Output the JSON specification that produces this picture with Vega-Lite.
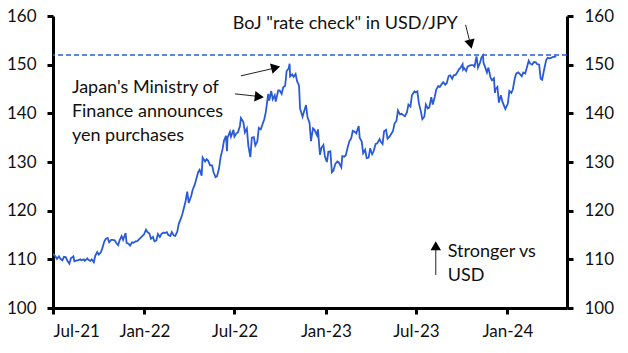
{
  "$schema": "https://vega.github.io/schema/vega-lite/v6.json",
  "width": 514,
  "height": 292,
  "autosize": {"type": "none"},
  "padding": {"left": 53, "top": 16, "right": 61, "bottom": 45},
  "background": "white",
  "config": {
    "view": {"stroke": null},
    "font": "Lato",
    "axis": {
      "domainColor": "black",
      "domainWidth": 3,
      "tickColor": "black",
      "tickWidth": 3,
      "tickSize": 6,
      "labelFont": "Lato",
      "labelFontSize": 17,
      "labelColor": "#111111",
      "grid": false,
      "title": null
    },
    "text": {"font": "Lato", "fontSize": 18, "color": "#111111"}
  },
  "datasets": {
    "fx": [
      {"date": "2021-07-01", "value": 111.1}, {"date": "2021-07-06", "value": 110.6}, {"date": "2021-07-09", "value": 110.1}, {"date": "2021-07-13", "value": 110.6},
      {"date": "2021-07-16", "value": 110.1}, {"date": "2021-07-20", "value": 109.8}, {"date": "2021-07-23", "value": 110.5}, {"date": "2021-07-27", "value": 110.4},
      {"date": "2021-07-30", "value": 109.7}, {"date": "2021-08-03", "value": 109.1}, {"date": "2021-08-06", "value": 110.2}, {"date": "2021-08-11", "value": 110.6},
      {"date": "2021-08-13", "value": 109.6}, {"date": "2021-08-18", "value": 109.8}, {"date": "2021-08-20", "value": 109.8}, {"date": "2021-08-25", "value": 110.0},
      {"date": "2021-08-27", "value": 109.8}, {"date": "2021-09-01", "value": 110.0}, {"date": "2021-09-03", "value": 109.7}, {"date": "2021-09-08", "value": 110.2},
      {"date": "2021-09-10", "value": 109.9}, {"date": "2021-09-14", "value": 109.7}, {"date": "2021-09-17", "value": 110.0}, {"date": "2021-09-21", "value": 109.4},
      {"date": "2021-09-24", "value": 110.7}, {"date": "2021-09-28", "value": 111.5}, {"date": "2021-10-01", "value": 111.0}, {"date": "2021-10-05", "value": 111.4},
      {"date": "2021-10-08", "value": 112.2}, {"date": "2021-10-12", "value": 113.6}, {"date": "2021-10-15", "value": 114.2}, {"date": "2021-10-19", "value": 114.4},
      {"date": "2021-10-22", "value": 113.5}, {"date": "2021-10-26", "value": 114.0}, {"date": "2021-10-29", "value": 114.0}, {"date": "2021-11-02", "value": 113.9},
      {"date": "2021-11-05", "value": 113.4}, {"date": "2021-11-09", "value": 112.9}, {"date": "2021-11-12", "value": 113.9}, {"date": "2021-11-16", "value": 114.8},
      {"date": "2021-11-19", "value": 114.0}, {"date": "2021-11-24", "value": 115.4}, {"date": "2021-11-26", "value": 113.4}, {"date": "2021-11-30", "value": 113.2},
      {"date": "2021-12-03", "value": 112.8}, {"date": "2021-12-07", "value": 113.5}, {"date": "2021-12-10", "value": 113.4}, {"date": "2021-12-14", "value": 113.7},
      {"date": "2021-12-17", "value": 113.7}, {"date": "2021-12-21", "value": 114.1}, {"date": "2021-12-24", "value": 114.4}, {"date": "2021-12-28", "value": 114.8},
      {"date": "2021-12-31", "value": 115.1}, {"date": "2022-01-04", "value": 116.1}, {"date": "2022-01-07", "value": 115.6}, {"date": "2022-01-11", "value": 115.3},
      {"date": "2022-01-14", "value": 114.2}, {"date": "2022-01-18", "value": 114.6}, {"date": "2022-01-21", "value": 113.7}, {"date": "2022-01-25", "value": 113.9},
      {"date": "2022-01-28", "value": 115.2}, {"date": "2022-02-01", "value": 114.6}, {"date": "2022-02-04", "value": 115.2}, {"date": "2022-02-08", "value": 115.5},
      {"date": "2022-02-11", "value": 115.4}, {"date": "2022-02-15", "value": 115.6}, {"date": "2022-02-18", "value": 115.0}, {"date": "2022-02-22", "value": 114.8},
      {"date": "2022-02-25", "value": 115.6}, {"date": "2022-03-01", "value": 114.9}, {"date": "2022-03-04", "value": 114.8}, {"date": "2022-03-08", "value": 115.7},
      {"date": "2022-03-11", "value": 117.3}, {"date": "2022-03-15", "value": 118.3}, {"date": "2022-03-18", "value": 119.2}, {"date": "2022-03-22", "value": 120.8},
      {"date": "2022-03-25", "value": 122.1}, {"date": "2022-03-28", "value": 123.9}, {"date": "2022-03-31", "value": 121.6}, {"date": "2022-04-05", "value": 123.0},
      {"date": "2022-04-08", "value": 124.3}, {"date": "2022-04-12", "value": 125.3}, {"date": "2022-04-15", "value": 126.4}, {"date": "2022-04-19", "value": 127.9},
      {"date": "2022-04-22", "value": 128.4}, {"date": "2022-04-26", "value": 127.2}, {"date": "2022-04-28", "value": 130.9}, {"date": "2022-05-03", "value": 130.1},
      {"date": "2022-05-06", "value": 130.6}, {"date": "2022-05-09", "value": 130.3}, {"date": "2022-05-13", "value": 129.3}, {"date": "2022-05-17", "value": 129.3},
      {"date": "2022-05-20", "value": 127.9}, {"date": "2022-05-24", "value": 126.9}, {"date": "2022-05-27", "value": 127.1}, {"date": "2022-05-31", "value": 128.7},
      {"date": "2022-06-03", "value": 130.9}, {"date": "2022-06-07", "value": 132.6}, {"date": "2022-06-10", "value": 134.4}, {"date": "2022-06-14", "value": 135.4},
      {"date": "2022-06-16", "value": 132.2}, {"date": "2022-06-17", "value": 135.0}, {"date": "2022-06-22", "value": 136.2}, {"date": "2022-06-24", "value": 135.2},
      {"date": "2022-06-29", "value": 136.6}, {"date": "2022-07-01", "value": 135.2}, {"date": "2022-07-05", "value": 135.9}, {"date": "2022-07-08", "value": 136.1},
      {"date": "2022-07-12", "value": 137.4}, {"date": "2022-07-14", "value": 139.0}, {"date": "2022-07-19", "value": 138.2}, {"date": "2022-07-22", "value": 136.1},
      {"date": "2022-07-26", "value": 136.9}, {"date": "2022-07-29", "value": 133.3}, {"date": "2022-08-02", "value": 131.0}, {"date": "2022-08-05", "value": 135.0},
      {"date": "2022-08-09", "value": 135.1}, {"date": "2022-08-12", "value": 133.4}, {"date": "2022-08-16", "value": 134.2}, {"date": "2022-08-19", "value": 137.0},
      {"date": "2022-08-23", "value": 136.7}, {"date": "2022-08-26", "value": 137.6}, {"date": "2022-08-30", "value": 138.8}, {"date": "2022-09-02", "value": 140.2},
      {"date": "2022-09-07", "value": 144.0}, {"date": "2022-09-09", "value": 142.6}, {"date": "2022-09-13", "value": 144.6}, {"date": "2022-09-16", "value": 142.9},
      {"date": "2022-09-20", "value": 143.7}, {"date": "2022-09-22", "value": 142.4}, {"date": "2022-09-27", "value": 144.7}, {"date": "2022-09-30", "value": 144.7},
      {"date": "2022-10-04", "value": 144.0}, {"date": "2022-10-07", "value": 145.3}, {"date": "2022-10-11", "value": 145.7}, {"date": "2022-10-14", "value": 148.7},
      {"date": "2022-10-18", "value": 149.2}, {"date": "2022-10-20", "value": 150.2}, {"date": "2022-10-21", "value": 147.6}, {"date": "2022-10-25", "value": 148.0},
      {"date": "2022-10-28", "value": 147.5}, {"date": "2022-11-01", "value": 148.1}, {"date": "2022-11-04", "value": 146.6}, {"date": "2022-11-08", "value": 145.7},
      {"date": "2022-11-10", "value": 141.0}, {"date": "2022-11-15", "value": 139.3}, {"date": "2022-11-18", "value": 140.4}, {"date": "2022-11-22", "value": 141.7},
      {"date": "2022-11-25", "value": 139.2}, {"date": "2022-11-29", "value": 138.1}, {"date": "2022-12-02", "value": 134.3}, {"date": "2022-12-06", "value": 136.9},
      {"date": "2022-12-09", "value": 136.6}, {"date": "2022-12-14", "value": 135.5}, {"date": "2022-12-16", "value": 136.7}, {"date": "2022-12-20", "value": 131.5},
      {"date": "2022-12-23", "value": 132.9}, {"date": "2022-12-27", "value": 133.5}, {"date": "2022-12-30", "value": 131.1}, {"date": "2023-01-03", "value": 130.0},
      {"date": "2023-01-06", "value": 132.1}, {"date": "2023-01-10", "value": 132.2}, {"date": "2023-01-13", "value": 127.9}, {"date": "2023-01-16", "value": 128.2},
      {"date": "2023-01-18", "value": 128.9}, {"date": "2023-01-20", "value": 129.6}, {"date": "2023-01-24", "value": 130.1}, {"date": "2023-01-27", "value": 129.9},
      {"date": "2023-02-01", "value": 128.9}, {"date": "2023-02-03", "value": 131.2}, {"date": "2023-02-07", "value": 131.1}, {"date": "2023-02-10", "value": 131.4},
      {"date": "2023-02-14", "value": 133.1}, {"date": "2023-02-17", "value": 134.2}, {"date": "2023-02-21", "value": 134.9}, {"date": "2023-02-24", "value": 136.4},
      {"date": "2023-02-28", "value": 136.2}, {"date": "2023-03-03", "value": 135.9}, {"date": "2023-03-08", "value": 137.4}, {"date": "2023-03-10", "value": 135.0},
      {"date": "2023-03-14", "value": 134.2}, {"date": "2023-03-17", "value": 131.8}, {"date": "2023-03-21", "value": 132.5}, {"date": "2023-03-24", "value": 130.8},
      {"date": "2023-03-28", "value": 130.9}, {"date": "2023-03-31", "value": 132.8}, {"date": "2023-04-04", "value": 131.6}, {"date": "2023-04-07", "value": 132.2},
      {"date": "2023-04-11", "value": 133.7}, {"date": "2023-04-14", "value": 133.8}, {"date": "2023-04-19", "value": 134.7}, {"date": "2023-04-21", "value": 134.2},
      {"date": "2023-04-25", "value": 133.7}, {"date": "2023-04-28", "value": 136.3}, {"date": "2023-05-02", "value": 136.6}, {"date": "2023-05-05", "value": 134.8},
      {"date": "2023-05-09", "value": 135.2}, {"date": "2023-05-12", "value": 135.7}, {"date": "2023-05-16", "value": 136.4}, {"date": "2023-05-19", "value": 137.9},
      {"date": "2023-05-23", "value": 138.5}, {"date": "2023-05-26", "value": 140.6}, {"date": "2023-05-30", "value": 139.8}, {"date": "2023-06-02", "value": 139.9},
      {"date": "2023-06-06", "value": 139.6}, {"date": "2023-06-09", "value": 139.4}, {"date": "2023-06-13", "value": 140.2}, {"date": "2023-06-16", "value": 141.8},
      {"date": "2023-06-20", "value": 141.4}, {"date": "2023-06-23", "value": 143.7}, {"date": "2023-06-28", "value": 144.5}, {"date": "2023-06-30", "value": 144.3},
      {"date": "2023-07-04", "value": 144.5}, {"date": "2023-07-07", "value": 142.1}, {"date": "2023-07-11", "value": 140.4}, {"date": "2023-07-14", "value": 138.8},
      {"date": "2023-07-18", "value": 139.3}, {"date": "2023-07-21", "value": 141.8}, {"date": "2023-07-25", "value": 141.0}, {"date": "2023-07-28", "value": 141.2},
      {"date": "2023-08-01", "value": 143.3}, {"date": "2023-08-04", "value": 141.8}, {"date": "2023-08-08", "value": 143.4}, {"date": "2023-08-11", "value": 144.9},
      {"date": "2023-08-15", "value": 145.6}, {"date": "2023-08-18", "value": 145.4}, {"date": "2023-08-22", "value": 146.0}, {"date": "2023-08-25", "value": 146.4},
      {"date": "2023-08-29", "value": 145.9}, {"date": "2023-09-01", "value": 146.2}, {"date": "2023-09-05", "value": 147.7}, {"date": "2023-09-08", "value": 147.8},
      {"date": "2023-09-12", "value": 147.1}, {"date": "2023-09-15", "value": 147.8}, {"date": "2023-09-19", "value": 147.9}, {"date": "2023-09-22", "value": 148.4},
      {"date": "2023-09-26", "value": 149.1}, {"date": "2023-09-29", "value": 149.4}, {"date": "2023-10-03", "value": 150.1}, {"date": "2023-10-04", "value": 149.0},
      {"date": "2023-10-06", "value": 149.3}, {"date": "2023-10-10", "value": 148.7}, {"date": "2023-10-13", "value": 149.6}, {"date": "2023-10-17", "value": 149.8},
      {"date": "2023-10-20", "value": 149.9}, {"date": "2023-10-24", "value": 149.9}, {"date": "2023-10-27", "value": 149.6}, {"date": "2023-10-31", "value": 151.7},
      {"date": "2023-11-03", "value": 149.4}, {"date": "2023-11-07", "value": 150.4}, {"date": "2023-11-10", "value": 151.5}, {"date": "2023-11-13", "value": 151.9},
      {"date": "2023-11-14", "value": 150.4}, {"date": "2023-11-17", "value": 149.6}, {"date": "2023-11-21", "value": 148.4}, {"date": "2023-11-24", "value": 149.4},
      {"date": "2023-11-28", "value": 147.4}, {"date": "2023-12-01", "value": 146.8}, {"date": "2023-12-05", "value": 147.2}, {"date": "2023-12-07", "value": 144.2},
      {"date": "2023-12-08", "value": 144.9}, {"date": "2023-12-12", "value": 145.4}, {"date": "2023-12-15", "value": 142.2}, {"date": "2023-12-19", "value": 143.7},
      {"date": "2023-12-22", "value": 142.4}, {"date": "2023-12-28", "value": 140.9}, {"date": "2024-01-02", "value": 142.0}, {"date": "2024-01-05", "value": 144.6},
      {"date": "2024-01-09", "value": 144.2}, {"date": "2024-01-12", "value": 144.9}, {"date": "2024-01-16", "value": 147.2}, {"date": "2024-01-19", "value": 148.2},
      {"date": "2024-01-23", "value": 148.4}, {"date": "2024-01-26", "value": 148.1}, {"date": "2024-01-30", "value": 147.6}, {"date": "2024-02-02", "value": 148.4},
      {"date": "2024-02-06", "value": 148.2}, {"date": "2024-02-09", "value": 149.3}, {"date": "2024-02-13", "value": 150.8}, {"date": "2024-02-16", "value": 150.2},
      {"date": "2024-02-20", "value": 150.0}, {"date": "2024-02-23", "value": 150.5}, {"date": "2024-02-27", "value": 150.5}, {"date": "2024-03-01", "value": 150.1},
      {"date": "2024-03-05", "value": 150.0}, {"date": "2024-03-08", "value": 147.1}, {"date": "2024-03-11", "value": 146.9}, {"date": "2024-03-15", "value": 149.0},
      {"date": "2024-03-19", "value": 150.9}, {"date": "2024-03-22", "value": 151.4}, {"date": "2024-03-27", "value": 151.3}, {"date": "2024-04-02", "value": 151.6},
      {"date": "2024-04-05", "value": 151.6}, {"date": "2024-04-08", "value": 151.8}
    ],
    "level": [{"value": 152}],
    "leftLabels": [
      {"date": "2021-08-08", "value": 145.2, "label": "Japan's Ministry of"},
      {"date": "2021-08-08", "value": 140.3, "label": "Finance announces"},
      {"date": "2021-08-08", "value": 135.4, "label": "yen purchases"},
      {"date": "2023-09-03", "value": 111.5, "label": "Stronger vs"},
      {"date": "2023-09-03", "value": 106.6, "label": "USD"}
    ],
    "centerLabels": [
      {"date": "2023-02-09", "value": 158.4, "label": "BoJ \"rate check\" in USD/JPY"}
    ],
    "arrows": [
      {"date": "2022-07-14", "value": 147.7, "date2": "2022-09-20", "value2": 149.3},
      {"date": "2022-07-02", "value": 144.0, "date2": "2022-08-16", "value2": 143.5},
      {"date": "2023-10-09", "value": 158.2, "date2": "2023-10-18", "value2": 154.5},
      {"date": "2023-08-10", "value": 106.8, "date2": "2023-08-10", "value2": 112.5}
    ],
    "heads": [
      {"date": "2022-09-22", "value": 149.4, "angle": -14},
      {"date": "2022-08-20", "value": 143.4, "angle": 7},
      {"date": "2023-10-19", "value": 154.2, "angle": 76},
      {"date": "2023-08-10", "value": 112.8, "angle": -90}
    ]
  },
  "layer": [
    {
      "data": {"name": "fx"},
      "mark": {"type": "line", "color": "#2a5bd7", "strokeWidth": 1.8, "clip": true},
      "encoding": {
        "x": {
          "field": "date", "type": "temporal",
          "scale": {"type": "utc", "domain": [{"year": 2021, "month": 7, "date": 1, "utc": true}, {"year": 2024, "month": 4, "date": 30, "utc": true}]},
          "axis": {
            "format": "%b-%y",
            "values": [
              {"year": 2021, "month": 7, "date": 1, "utc": true},
              {"year": 2022, "month": 1, "date": 1, "utc": true},
              {"year": 2022, "month": 7, "date": 1, "utc": true},
              {"year": 2023, "month": 1, "date": 1, "utc": true},
              {"year": 2023, "month": 7, "date": 1, "utc": true},
              {"year": 2024, "month": 1, "date": 1, "utc": true}
            ],
            "labelPadding": 9, "title": null
          }
        },
        "y": {
          "field": "value", "type": "quantitative",
          "scale": {"domain": [100, 160], "zero": false, "nice": false},
          "axis": {"orient": "left", "values": [100, 110, 120, 130, 140, 150, 160], "labelPadding": 11, "title": null}
        }
      }
    },
    {
      "data": {"name": "level"},
      "mark": {"type": "rule", "color": "#2a5bd7", "strokeWidth": 1.6, "strokeDash": [5, 3]},
      "encoding": {
        "y": {
          "field": "value", "type": "quantitative",
          "axis": {"orient": "right", "values": [100, 110, 120, 130, 140, 150, 160], "labelPadding": 11, "title": null}
        }
      }
    },
    {
      "data": {"name": "leftLabels"},
      "mark": {"type": "text", "baseline": "middle", "align": "left"},
      "encoding": {
        "x": {"field": "date", "type": "temporal"},
        "y": {"field": "value", "type": "quantitative", "axis": null},
        "text": {"field": "label"}
      }
    },
    {
      "data": {"name": "centerLabels"},
      "mark": {"type": "text", "baseline": "middle", "align": "center"},
      "encoding": {
        "x": {"field": "date", "type": "temporal"},
        "y": {"field": "value", "type": "quantitative", "axis": null},
        "text": {"field": "label"}
      }
    },
    {
      "data": {"name": "arrows"},
      "mark": {"type": "rule", "color": "#222222", "strokeWidth": 1},
      "encoding": {
        "x": {"field": "date", "type": "temporal"},
        "y": {"field": "value", "type": "quantitative", "axis": null},
        "x2": {"field": "date2"},
        "y2": {"field": "value2"}
      }
    },
    {
      "data": {"name": "heads"},
      "mark": {"type": "point", "shape": "triangle-right", "filled": true, "color": "black", "size": 110, "opacity": 1},
      "encoding": {
        "x": {"field": "date", "type": "temporal"},
        "y": {"field": "value", "type": "quantitative", "axis": null},
        "angle": {"field": "angle", "type": "quantitative", "scale": null}
      }
    }
  ],
  "resolve": {"axis": {"y": "independent"}}
}
